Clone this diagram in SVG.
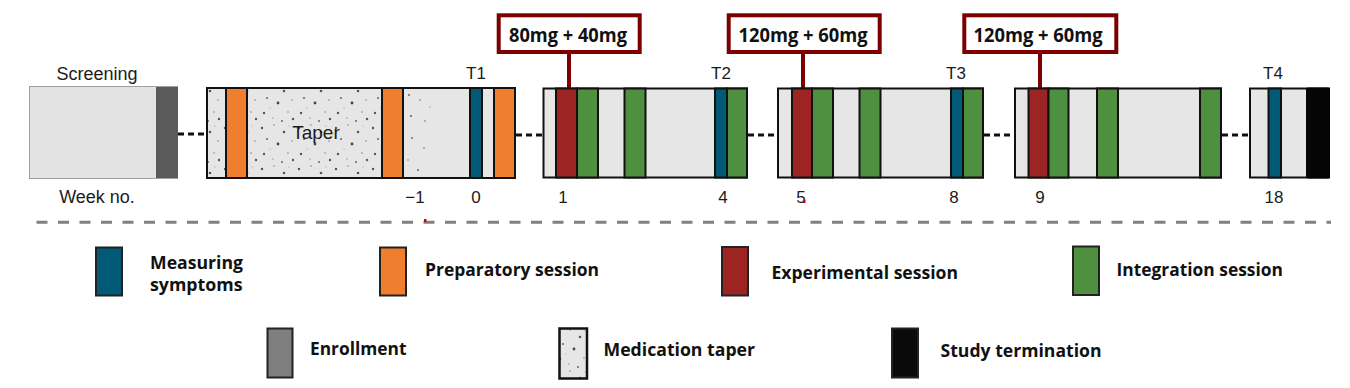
<svg xmlns="http://www.w3.org/2000/svg" width="1350" height="388" viewBox="0 0 1350 388">
<defs>
<pattern id="stipple" patternUnits="userSpaceOnUse" width="37" height="41">
<rect width="37" height="41" fill="#e6e6e6"/>
<circle cx="3" cy="5" r="1.2" fill="#555"/>
<circle cx="15" cy="2" r="0.8" fill="#888"/>
<circle cx="25" cy="9" r="1.3" fill="#555"/>
<circle cx="33" cy="18" r="0.8" fill="#888"/>
<circle cx="8" cy="16" r="1" fill="#666"/>
<circle cx="19" cy="21" r="1.4" fill="#444"/>
<circle cx="29" cy="30" r="0.8" fill="#888"/>
<circle cx="5" cy="31" r="1.2" fill="#555"/>
<circle cx="14" cy="36" r="0.8" fill="#999"/>
<circle cx="23" cy="39" r="1" fill="#666"/>
<circle cx="34" cy="37" r="1.2" fill="#555"/>
<circle cx="11" cy="26" r="0.6" fill="#999"/>
<circle cx="30" cy="3" r="0.6" fill="#999"/>
</pattern>
</defs>
<style>
.box{fill:#e6e6e6;stroke:#111;stroke-width:2}
.bar{stroke:#111;stroke-width:2}
.blue{fill:#035a77}
.orange{fill:#ef7f2f}
.red{fill:#9c2422}
.green{fill:#4f8f40}
.lbl{font-family:"Liberation Sans",Arial,sans-serif;font-size:17px;fill:#1b1b1b}
.big{font-size:18px}
.dose{fill:#fff;stroke:#7c0000;stroke-width:4}
.dtxt{font-family:"Open Sans","Noto Sans",sans-serif;font-weight:700;font-size:19.5px;fill:#111}
.leg{font-family:"Open Sans","Noto Sans",sans-serif;font-weight:700;font-size:18.5px;fill:#111}
.lr{stroke:#222;stroke-width:2}
.conn{stroke:#111;stroke-width:3;stroke-dasharray:6 4;fill:none}
</style>

<g id="connectors">
<line class="conn" x1="178" y1="134" x2="206" y2="134"/>
<line class="conn" x1="516" y1="135" x2="543" y2="135"/>
<line class="conn" x1="748" y1="135" x2="777" y2="135"/>
<line class="conn" x1="984" y1="135" x2="1014" y2="135"/>
<line class="conn" x1="1222" y1="135" x2="1249" y2="135"/>
<line x1="569" y1="54" x2="569" y2="88" stroke="#7c0000" stroke-width="4"/>
<line x1="803" y1="54" x2="803" y2="88" stroke="#7c0000" stroke-width="4"/>
<line x1="1040" y1="54" x2="1040" y2="88" stroke="#7c0000" stroke-width="4"/>
</g>

<g id="screening">
<rect x="29.5" y="86.5" width="148" height="92" fill="#e3e3e3" stroke="#a0a0a0" stroke-width="1"/>
<rect x="156" y="87" width="22" height="91" fill="#5a5a5a"/>
<text class="lbl big" x="97" y="80" text-anchor="middle">Screening</text>
<text class="lbl big" x="97" y="203" text-anchor="middle">Week no.</text>
</g>

<g id="taper">
<rect class="box" x="207" y="88" width="308" height="90"/>
<rect x="208" y="89" width="194" height="88" fill="url(#stipple)"/>
<g fill="#666">
<circle cx="409" cy="95" r="1"/><circle cx="420" cy="100" r="0.8"/><circle cx="411" cy="116" r="1.1"/>
<circle cx="425" cy="121" r="0.8"/><circle cx="412" cy="138" r="0.9"/><circle cx="424" cy="148" r="0.8"/>
<circle cx="418" cy="170" r="1"/><circle cx="430" cy="107" r="0.6"/><circle cx="408" cy="160" r="0.7"/>
</g>
<rect class="bar orange" x="226" y="88" width="21" height="90"/>
<rect class="bar orange" x="382" y="88" width="21" height="90"/>
<rect class="bar blue" x="470" y="88" width="12" height="90"/>
<rect class="bar orange" x="494" y="88" width="21" height="90"/>
<rect x="207" y="88" width="308" height="90" fill="none" stroke="#111" stroke-width="2"/>
<text class="lbl" x="316" y="139" text-anchor="middle" style="font-size:19px">Taper</text>
<text class="lbl" x="476" y="79" text-anchor="middle">T1</text>
<text class="lbl" x="415" y="203" text-anchor="middle">−1</text>
<text class="lbl" x="476" y="203" text-anchor="middle">0</text>
</g>

<g id="block-weeks-1-4">
<rect class="box" x="543.5" y="88.5" width="203.5" height="89"/>
<rect class="bar red" x="556" y="88.5" width="21" height="89"/>
<rect class="bar green" x="577" y="88.5" width="21" height="89"/>
<rect class="bar green" x="624.5" y="88.5" width="21" height="89"/>
<rect class="bar blue" x="715" y="88.5" width="12" height="89"/>
<rect class="bar green" x="727" y="88.5" width="20" height="89"/>
<text class="lbl" x="721" y="79" text-anchor="middle">T2</text>
<text class="lbl" x="563" y="203" text-anchor="middle">1</text>
<text class="lbl" x="723" y="203" text-anchor="middle">4</text>
</g>

<g id="block-weeks-5-8">
<rect class="box" x="778" y="88.5" width="205" height="89"/>
<rect class="bar red" x="792" y="88.5" width="20" height="89"/>
<rect class="bar green" x="812" y="88.5" width="21" height="89"/>
<rect class="bar green" x="859.5" y="88.5" width="21" height="89"/>
<rect class="bar blue" x="951" y="88.5" width="12" height="89"/>
<rect class="bar green" x="963" y="88.5" width="20" height="89"/>
<text class="lbl" x="956" y="79" text-anchor="middle">T3</text>
<text class="lbl" x="801" y="203" text-anchor="middle">5</text>
<rect x="803" y="200" width="2.5" height="3" fill="#e00000"/>
<text class="lbl" x="954" y="203" text-anchor="middle">8</text>
</g>

<g id="block-weeks-9-17">
<rect class="box" x="1015" y="88.5" width="206" height="89"/>
<rect class="bar red" x="1028.5" y="88.5" width="20" height="89"/>
<rect class="bar green" x="1048.5" y="88.5" width="20" height="89"/>
<rect class="bar green" x="1097" y="88.5" width="21" height="89"/>
<rect class="bar green" x="1200" y="88.5" width="21" height="89"/>
<text class="lbl" x="1040" y="203" text-anchor="middle">9</text>
</g>

<g id="block-week-18">
<rect class="box" x="1250" y="88.5" width="79" height="89"/>
<rect class="bar blue" x="1268.5" y="88.5" width="12.5" height="89"/>
<rect x="1306" y="87.5" width="24" height="91" rx="2" fill="#050505"/>
<text class="lbl" x="1273" y="79" text-anchor="middle">T4</text>
<text class="lbl" x="1274" y="203" text-anchor="middle">18</text>
</g>

<g id="dose-1">
<rect class="dose" x="498.7" y="15.3" width="141" height="36.7"/>
<text class="dtxt" x="568" y="41.5" text-anchor="middle" textLength="118" lengthAdjust="spacingAndGlyphs">80mg + 40mg</text>
</g>
<g id="dose-2">
<rect class="dose" x="728.7" y="15.3" width="151" height="36.7"/>
<text class="dtxt" x="803" y="41.5" text-anchor="middle" textLength="129" lengthAdjust="spacingAndGlyphs">120mg + 60mg</text>
</g>
<g id="dose-3">
<rect class="dose" x="964.3" y="15.3" width="152" height="36.7"/>
<text class="dtxt" x="1038" y="41.5" text-anchor="middle" textLength="129" lengthAdjust="spacingAndGlyphs">120mg + 60mg</text>
</g>

<g id="separator">
<line x1="30" y1="222.3" x2="1331" y2="222.3" stroke="#808080" stroke-width="3" stroke-dasharray="11 10.5" stroke-dashoffset="15"/>
<rect x="424" y="219" width="2.5" height="3" fill="#e00000"/>
</g>

<g id="legend-measuring">
<rect class="lr blue" x="96" y="247.5" width="26" height="48"/>
<text class="leg" x="150" y="268.5" textLength="93" lengthAdjust="spacingAndGlyphs">Measuring</text>
<text class="leg" x="150" y="291" textLength="92.5" lengthAdjust="spacingAndGlyphs">symptoms</text>
</g>
<g id="legend-preparatory">
<rect class="lr orange" x="380" y="247.5" width="26" height="48"/>
<text class="leg" x="425" y="276" textLength="174" lengthAdjust="spacingAndGlyphs">Preparatory session</text>
</g>
<g id="legend-experimental">
<rect class="lr red" x="722" y="247" width="26" height="48.5"/>
<text class="leg" x="771.5" y="279" textLength="186.5" lengthAdjust="spacingAndGlyphs">Experimental session</text>
</g>
<g id="legend-integration">
<rect class="lr green" x="1073" y="246.5" width="26" height="48.5"/>
<text class="leg" x="1116.5" y="276" textLength="166.5" lengthAdjust="spacingAndGlyphs">Integration session</text>
</g>
<g id="legend-enrollment">
<rect class="lr" x="267.5" y="328.5" width="25" height="49" fill="#7f7f7f"/>
<text class="leg" x="310" y="354.5" textLength="96.5" lengthAdjust="spacingAndGlyphs">Enrollment</text>
</g>
<g id="legend-taper">
<rect x="559.5" y="328.5" width="27.5" height="50" fill="url(#stipple)" stroke="#111" stroke-width="2.5"/>
<text class="leg" x="603.5" y="356" textLength="151.5" lengthAdjust="spacingAndGlyphs">Medication taper</text>
</g>
<g id="legend-termination">
<rect class="lr" x="892" y="328.5" width="26" height="49" fill="#0a0a0a"/>
<text class="leg" x="940.5" y="357" textLength="161" lengthAdjust="spacingAndGlyphs">Study termination</text>
</g>
</svg>
